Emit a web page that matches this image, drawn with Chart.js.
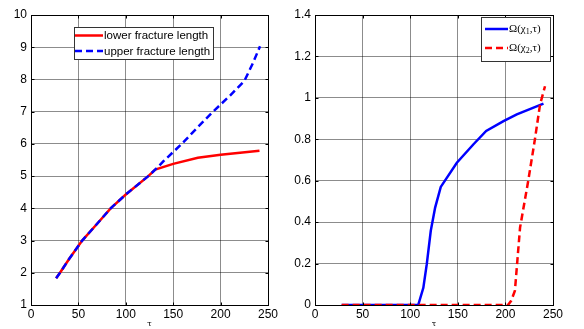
<!DOCTYPE html>
<html><head><meta charset="utf-8">
<script src="https://cdn.jsdelivr.net/npm/chart.js@4/dist/chart.umd.min.js"></script>
<style>
html,body{margin:0;padding:0;background:#fff;overflow:hidden}
#wrap{position:relative;width:584px;height:329px;background:#fff}
canvas{position:absolute;top:0}
</style></head><body>
<div id="wrap">
<canvas id="c1" width="292" height="329" style="left:0"></canvas>
<canvas id="c2" width="292" height="329" style="left:292px"></canvas>
</div>
<script>
// ---- data ----
const lowerTau    = [26.5, 30.6, 40, 54, 70, 84, 100, 123.7, 131, 150, 176, 200, 241];
const lowerLength = [1.83, 2.0, 2.42, 3.0, 3.53, 4.0, 4.43, 5.0, 5.2, 5.38, 5.57, 5.66, 5.79];
const upperTau    = [26.5, 30.6, 40, 54, 70, 84, 100, 123.7, 131, 140, 159, 176, 192, 210, 225, 234, 241.6];
const upperLength = [1.83, 2.0, 2.42, 3.0, 3.53, 4.0, 4.43, 5.0, 5.2, 5.47, 6.0, 6.52, 7.0, 7.5, 7.95, 8.5, 9.03];

const omega1Tau = [28, 108.4, 113.8, 117.4, 121.6, 126.2, 132.1, 149, 166.5, 179.8, 198, 212, 240];
const omega1    = [0, 0, 0.083, 0.197, 0.358, 0.47, 0.57, 0.687, 0.776, 0.84, 0.888, 0.92, 0.972];
const omega2Tau = [28, 202.8, 206, 210, 215.4, 224, 231, 236.4, 241.6];
const omega2    = [0, 0, 0.02, 0.069, 0.374, 0.6, 0.8, 0.968, 1.056];

const leftLabels  = ['lower fracture length', 'upper fracture length'];
const rightLabels = [['Ω(χ', '1', ',τ)'], ['Ω(χ', '2', ',τ)']];
const xTitle = 'τ';

const pts = (xs, ys) => xs.map((x, i) => ({x, y: ys[i]}));

// ---- plugins ----
const boxPlugin = {
  id: 'box',
  afterDatasetsDraw(chart) {
    const {ctx, chartArea: a, scales: {x, y}} = chart;
    const L = Math.round(a.left) + 0.5, R = Math.round(a.right) + 0.5;
    const T = Math.round(a.top) + 0.5, B = Math.round(a.bottom) + 0.5;
    ctx.save();
    ctx.strokeStyle = '#000'; ctx.lineWidth = 1; ctx.setLineDash([]);
    ctx.strokeRect(L, T, R - L, B - T);
    ctx.beginPath();
    const tl = 3;
    x.ticks.forEach(t => {
      const px = Math.round(x.getPixelForValue(t.value)) + 0.5;
      ctx.moveTo(px, B); ctx.lineTo(px, B - tl);
      ctx.moveTo(px, T); ctx.lineTo(px, T + tl);
    });
    y.ticks.forEach(t => {
      const py = Math.round(y.getPixelForValue(t.value)) + 0.5;
      ctx.moveTo(L, py); ctx.lineTo(L + tl, py);
      ctx.moveTo(R, py); ctx.lineTo(R - tl, py);
    });
    ctx.stroke();
    ctx.restore();
  }
};

function drawSample(ctx, x0, x1, y, ds) {
  ctx.save();
  ctx.strokeStyle = ds.borderColor; ctx.lineWidth = ds.borderWidth;
  ctx.setLineDash(ds.borderDash || []);
  ctx.beginPath(); ctx.moveTo(x0, y); ctx.lineTo(x1, y); ctx.stroke();
  ctx.restore();
}

const leftLegend = {
  id: 'leftLegend',
  afterDraw(chart) {
    const {ctx, chartArea: a} = chart;
    const bx = a.left + 43, by = a.top + 12, bw = 139, bh = 32;
    ctx.save();
    ctx.fillStyle = '#fff'; ctx.fillRect(bx, by, bw, bh);
    ctx.strokeStyle = '#333'; ctx.lineWidth = 1;
    ctx.strokeRect(bx + 0.5, by + 0.5, bw, bh);
    const rows = [by + 8.5, by + 24];
    ctx.font = '11.5px "Liberation Sans", Arial, sans-serif';
    ctx.fillStyle = '#000'; ctx.textBaseline = 'middle';
    chart.data.datasets.forEach((ds, i) => {
      drawSample(ctx, bx + 1, bx + 29, rows[i], ds);
      ctx.fillText(leftLabels[i], bx + 30, rows[i] + 0.5);
    });
    ctx.restore();
  }
};

const rightLegend = {
  id: 'rightLegend',
  afterDraw(chart) {
    const {ctx, chartArea: a} = chart;
    const bw = 69, bh = 44;
    const bx = a.right - 3 - bw, by = a.top + 2;
    ctx.save();
    ctx.fillStyle = '#fff'; ctx.fillRect(bx, by, bw, bh);
    ctx.strokeStyle = '#333'; ctx.lineWidth = 1;
    ctx.strokeRect(bx + 0.5, by + 0.5, bw, bh);
    const rows = [by + 12, by + 31];
    ctx.fillStyle = '#000'; ctx.textBaseline = 'middle';
    chart.data.datasets.forEach((ds, i) => {
      drawSample(ctx, bx + 4, bx + 27, rows[i], ds);
      let tx = bx + 28;
      const [a1, sub, a2] = rightLabels[i];
      ctx.font = '11px "Liberation Serif", "DejaVu Serif", serif';
      ctx.fillText(a1, tx, rows[i]); tx += ctx.measureText(a1).width;
      ctx.font = '8px "Liberation Serif", "DejaVu Serif", serif';
      ctx.fillText(sub, tx, rows[i] + 3); tx += ctx.measureText(sub).width;
      ctx.font = '11px "Liberation Serif", "DejaVu Serif", serif';
      ctx.fillText(a2, tx, rows[i]);
    });
    ctx.restore();
  }
};

function makeOptions(yMin, yMax, yStep, yWidth, padLeft, padRight, fmt) {
  const gridCfg = {color: 'rgba(0,0,0,0.45)', lineWidth: 1, drawTicks: false, borderDash: [1, 2]};
  return {
    responsive: false, animation: false, events: [],
    devicePixelRatio: 1,
    layout: {padding: {left: padLeft, right: padRight, top: 15, bottom: 0}},
    plugins: {legend: {display: false}, tooltip: {enabled: false}},
    scales: {
      x: {
        type: 'linear', min: 0, max: 250,
        ticks: {stepSize: 50, padding: 2, color: '#000', font: {family: '"Liberation Sans", Arial, sans-serif', size: 12}},
        grid: gridCfg, border: {display: false},
        title: {display: true, text: xTitle, color: '#000', padding: 0, font: {family: '"DejaVu Serif", serif', size: 8}},
        afterFit: s => { s.height = 24; }
      },
      y: {
        type: 'linear', min: yMin, max: yMax,
        ticks: {stepSize: yStep, padding: 4, color: '#000', callback: fmt, font: {family: '"Liberation Sans", Arial, sans-serif', size: 12}},
        grid: gridCfg, border: {display: false},
        afterFit: s => { s.width = yWidth; }
      }
    }
  };
}

new Chart(document.getElementById('c1'), {
  type: 'scatter',
  data: {datasets: [
    {label: leftLabels[0], data: pts(lowerTau, lowerLength), showLine: true, pointRadius: 0,
     borderColor: '#ff0000', backgroundColor: '#ff0000', borderWidth: 2.5, order: 1},
    {label: leftLabels[1], data: pts(upperTau, upperLength), showLine: true, pointRadius: 0,
     borderColor: '#0000ff', backgroundColor: '#0000ff', borderWidth: 2.5, borderDash: [7, 4], order: 0}
  ]},
  options: makeOptions(1, 10, 1, 31, 0, 24, v => String(v)),
  plugins: [boxPlugin, leftLegend]
});

new Chart(document.getElementById('c2'), {
  type: 'scatter',
  data: {datasets: [
    {label: 'omega1', data: pts(omega1Tau, omega1), showLine: true, pointRadius: 0,
     borderColor: '#0000ff', backgroundColor: '#0000ff', borderWidth: 2.5, order: 1},
    {label: 'omega2', data: pts(omega2Tau, omega2), showLine: true, pointRadius: 0,
     borderColor: '#ff0000', backgroundColor: '#ff0000', borderWidth: 2.5, borderDash: [7, 4], order: 0}
  ]},
  options: makeOptions(0, 1.4, 0.2, 23, 0, 31, v => String(Math.round(v * 10) / 10)),
  plugins: [boxPlugin, rightLegend]
});
</script>
</body></html>
